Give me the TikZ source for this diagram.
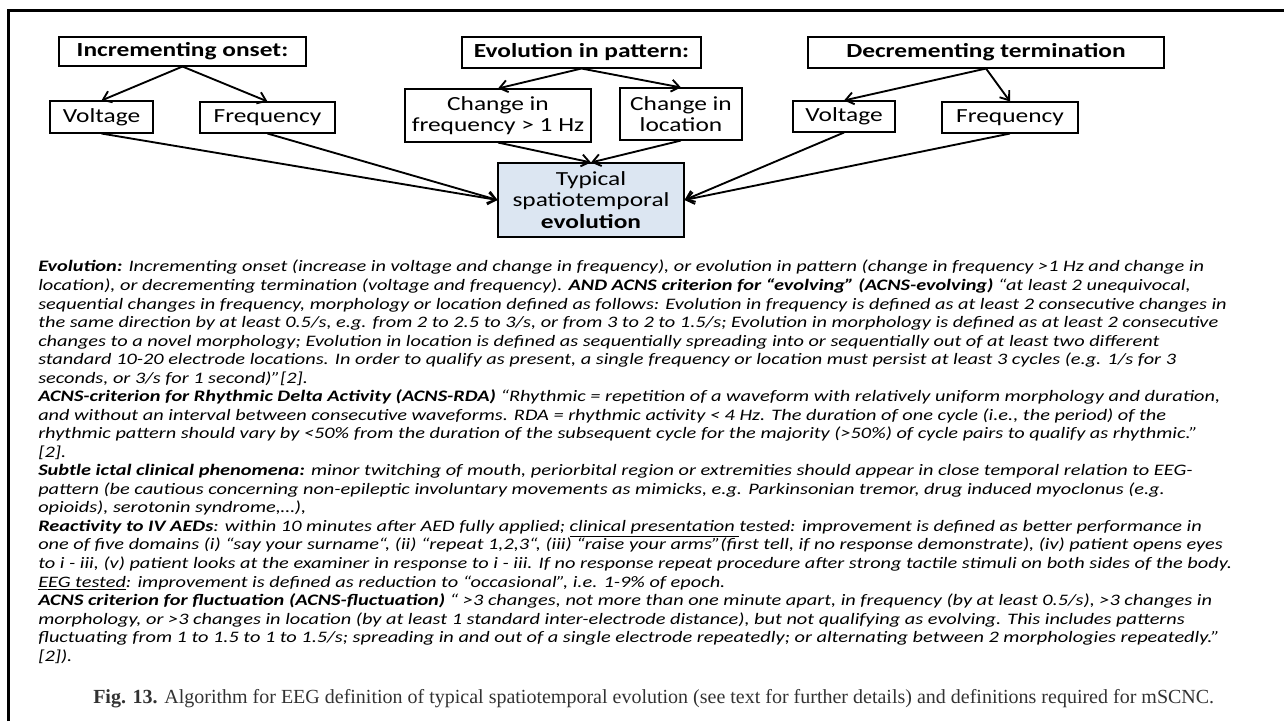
\documentclass[tikz,border=0pt]{standalone}
\usepackage{fontspec}
\setmainfont{Carlito}[FakeStretch=1.27]
\newfontfamily\capfont{Liberation Serif}
\usetikzlibrary{arrows.meta}
\definecolor{boxblue}{RGB}{220,230,242}
\definecolor{capgray}{RGB}{50,50,50}
\tikzset{
  box/.style={draw, line width=0.8pt, align=center, inner sep=0pt,
    font=\fontsize{15pt}{16pt}\selectfont},
  head/.style={box, font=\fontsize{15pt}{16pt}\selectfont\bfseries},
  arr/.style={line width=1.4pt, -{Straight Barb[length=6pt,width=9pt]}}
}
\begin{document}
\begin{tikzpicture}[x=0.75pt,y=-0.75pt]
    \useasboundingbox (0,0) rectangle (1284,721);
    \draw[line width=2.25pt] (8,721) -- (8,10) -- (1284,10);
    % top row
    \node[head, minimum width=185.25pt, minimum height=21.75pt] (inc) at (182.5,51.5) {Incrementing onset:};
    \node[head, minimum width=179.25pt, minimum height=23.25pt] (evo) at (581.5,52.5) {Evolution in pattern:};
    \node[head, minimum width=267pt, minimum height=23.25pt] (dec) at (986,52.5) {Decrementing termination};
    % second row
    \node[box, minimum width=77.25pt, minimum height=24pt] (volL) at (101.5,117) {Voltage};
    \node[box, minimum width=101.25pt, minimum height=23.25pt] (freqL) at (267.5,117.5) {Frequency};
    \node[box, minimum width=139.5pt, minimum height=39.75pt] (chf) at (498,115.5) {Change in\\frequency > 1 Hz};
    \node[box, minimum width=91.5pt, minimum height=39pt] (chl) at (681,114) {Change in\\location};
    \node[box, minimum width=76.5pt, minimum height=23.25pt] (volR) at (844,116.5) {Voltage};
    \node[box, minimum width=102pt, minimum height=23.25pt] (freqR) at (1010,117.5) {Frequency};
    % result
    \node[box, fill=boxblue, minimum width=139.5pt, minimum height=55.5pt] (typ) at (591,200) {Typical\\spatiotemporal\\\textbf{evolution}};
    % arrows
    \draw[arr] (inc.south) -- (volL.north);
    \draw[arr] (inc.south) -- (freqL.north);
    \draw[arr] (evo.south) -- (chf.north);
    \draw[arr] (evo.south) -- (chl.north);
    \draw[arr] (dec.south) -- (volR.north);
    \draw[arr] (dec.south) -- (freqR.north);
    \draw[arr] (volL.south) -- (typ.west);
    \draw[arr] (freqL.south) -- (typ.west);
    \draw[arr] (chf.south) -- (typ.north);
    \draw[arr] (chl.south) -- (typ.north);
    \draw[arr] (volR.south) -- (typ.east);
    \draw[arr] (freqR.south) -- (typ.east);
    % definitions
    \node[anchor=north west, align=left, inner sep=0pt,
      font=\fontsize{12pt}{13.9pt}\selectfont\itshape] (defs) at (38,260) {%
      \textbf{Evolution:} Incrementing onset (increase in voltage and change in frequency), or evolution in pattern (change in frequency >1 Hz and change in\\
      location), or decrementing termination (voltage and frequency). \textbf{AND ACNS criterion for “evolving” (ACNS-evolving)} “at least 2 unequivocal,\\
      sequential changes in frequency, morphology or location defined as follows: Evolution in frequency is defined as at least 2 consecutive changes in\\
      the same direction by at least 0.5/s, e.g. from 2 to 2.5 to 3/s, or from 3 to 2 to 1.5/s; Evolution in morphology is defined as at least 2 consecutive\\
      changes to a novel morphology; Evolution in location is defined as sequentially spreading into or sequentially out of at least two different\\
      standard 10-20 electrode locations. In order to qualify as present, a single frequency or location must persist at least 3 cycles (e.g. 1/s for 3\\
      seconds, or 3/s for 1 second)”[2].\\
      \textbf{ACNS-criterion for Rhythmic Delta Activity (ACNS-RDA)} “Rhythmic = repetition of a waveform with relatively uniform morphology and duration,\\
      and without an interval between consecutive waveforms. RDA = rhythmic activity < 4 Hz. The duration of one cycle (i.e., the period) of the\\
      rhythmic pattern should vary by <50\% from the duration of the subsequent cycle for the majority (>50\%) of cycle pairs to qualify as rhythmic.”\\
      {[2].}\\
      \textbf{Subtle ictal clinical phenomena:} minor twitching of mouth, periorbital region or extremities should appear in close temporal relation to EEG-\\
      pattern (be cautious concerning non-epileptic involuntary movements as mimicks, e.g. Parkinsonian tremor, drug induced myoclonus (e.g.\\
      opioids), serotonin syndrome,…),\\
      \textbf{Reactivity to IV AEDs}: within 10 minutes after AED fully applied; \underline{clinical presentation }tested: improvement is defined as better performance in\\
      one of five domains (i) “say your surname“, (ii) “repeat 1,2,3“, (iii) “raise your arms”(first tell, if no response demonstrate), (iv) patient opens eyes\\
      to i - iii, (v) patient looks at the examiner in response to i - iii. If no response repeat procedure after strong tactile stimuli on both sides of the body.\\
      \underline{EEG tested}: improvement is defined as reduction to “occasional”, i.e. 1-9\% of epoch.\\
      \textbf{ACNS criterion for fluctuation (ACNS-fluctuation)} “ >3 changes, not more than one minute apart, in frequency (by at least 0.5/s), >3 changes in\\
      morphology, or >3 changes in location (by at least 1 standard inter-electrode distance), but not qualifying as evolving. This includes patterns\\
      fluctuating from 1 to 1.5 to 1 to 1.5/s; spreading in and out of a single electrode repeatedly; or alternating between 2 morphologies repeatedly.”\\
      {[2]).}};
    % caption
    \node[anchor=west, inner sep=0pt, text=capgray, font=\capfont\fontsize{15pt}{17pt}\selectfont] (cap) at (93,699)
      {\textbf{Fig. 13.} Algorithm for EEG definition of typical spatiotemporal evolution (see text for further details) and definitions required for mSCNC.};
\end{tikzpicture}
\end{document}
